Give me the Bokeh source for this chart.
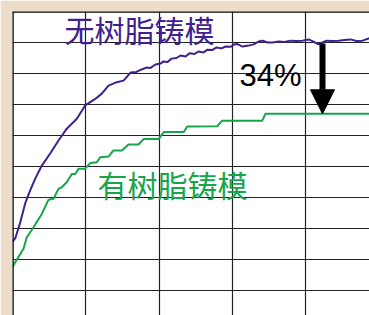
from bokeh.plotting import figure
from bokeh.models import Range1d, FixedTicker, Span, Label, Arrow, NormalHead
from bokeh.embed import file_html
from bokeh.resources import INLINE

# Series: without resin mould (purple) and with resin mould (green), in grid-cell units
purple_x = [0.000, 0.037, 0.105, 0.173, 0.241, 0.310, 0.400, 0.514, 0.627, 0.740,
            0.877, 0.991, 1.128, 1.218, 1.309, 1.422, 1.514, 1.609, 1.691, 1.759,
            1.827, 1.882, 1.950, 2.018, 2.059, 2.114, 2.168, 2.236, 2.291, 2.359,
            2.414, 2.482, 2.536, 2.605, 2.659, 2.727, 2.782, 2.850, 2.905, 2.973,
            3.027, 3.068, 3.137, 3.218, 3.287, 3.355, 3.409, 3.477, 3.546, 3.627,
            3.709, 3.791, 3.873, 3.955, 4.037, 4.105, 4.173, 4.227, 4.282, 4.364,
            4.446, 4.527, 4.609, 4.691, 4.773, 4.868]
purple_y = [2.58, 2.68, 3.19, 3.81, 4.23, 4.61, 5.03, 5.42, 5.84, 6.22,
            6.54, 6.97, 7.18, 7.35, 7.61, 7.72, 7.77, 8.03, 8.05, 8.13,
            8.19, 8.18, 8.29, 8.32, 8.39, 8.37, 8.48, 8.50, 8.58, 8.55,
            8.65, 8.63, 8.71, 8.68, 8.77, 8.76, 8.84, 8.81, 8.87, 8.86,
            8.94, 8.95, 8.87, 8.90, 8.94, 9.03, 9.06, 9.00, 9.00, 9.03,
            9.02, 9.06, 9.05, 9.06, 9.10, 9.03, 8.94, 9.00, 9.06, 9.05,
            9.06, 9.08, 9.10, 9.05, 9.06, 9.14]

green_x = [0.000, 0.150, 0.195, 0.286, 0.400, 0.491, 0.559, 0.627, 0.672, 0.740,
           0.809, 0.855, 0.900, 0.991, 1.060, 1.150, 1.196, 1.309, 1.377, 1.491,
           1.582, 1.718, 1.791, 1.995, 2.063, 2.336, 2.382, 2.791, 2.860, 3.405,
           3.450, 4.868]
green_y = [1.77, 2.35, 2.72, 3.04, 3.47, 3.93, 3.96, 4.28, 4.33, 4.49,
           4.76, 4.76, 4.93, 4.93, 5.11, 5.14, 5.30, 5.32, 5.52, 5.52,
           5.71, 5.71, 5.89, 5.89, 6.11, 6.11, 6.29, 6.30, 6.48, 6.48,
           6.70, 6.70]

x_ticks = [1, 2, 3, 4]
y_ticks = [1, 2, 3, 4, 5, 6, 7, 8, 9]

label_purple = "无树脂铸模"
label_green = "有树脂铸模"
label_drop = "34%"

arrow_x = 4.227
arrow_top = 8.97

PURPLE = "#40208F"
GREEN = "#17A54A"

p = figure(width=369, height=315, output_backend="svg", toolbar_location=None,
           x_range=Range1d(0, 4.868), y_range=Range1d(0.194, 10),
           min_border_left=12, min_border_top=11, min_border_right=0, min_border_bottom=0)
p.xaxis.visible = False
p.yaxis.visible = False
p.title.visible = False
p.border_fill_color = "#EEDCCB"
p.background_fill_color = "white"
p.outline_line_color = None

p.xgrid.ticker = FixedTicker(ticks=x_ticks)
p.ygrid.ticker = FixedTicker(ticks=y_ticks)
for g in (p.xgrid, p.ygrid):
    g.grid_line_color = "#222222"
    g.grid_line_width = 1.2
    g.grid_line_alpha = 1.0

p.add_layout(Span(location=0, dimension="height", line_color="black", line_width=2.5))
p.add_layout(Span(location=10, dimension="width", line_color="black", line_width=2.5))

p.line(purple_x, purple_y, line_color=PURPLE, line_width=2, line_join="round")
p.line(green_x, green_y, line_color=GREEN, line_width=2, line_join="round")

p.add_layout(Label(x=0.71, y=9.45, text=label_purple, text_color=PURPLE,
                   text_font="Noto Sans CJK SC", text_font_size="30px",
                   text_baseline="middle", text_align="left"))
p.add_layout(Label(x=1.16, y=4.44, text=label_green, text_color=GREEN,
                   text_font="Noto Sans CJK SC", text_font_size="30px",
                   text_baseline="middle", text_align="left"))
p.add_layout(Label(x=3.096, y=7.95, text=label_drop, text_color="black",
                   text_font="Liberation Sans", text_font_size="31px",
                   text_baseline="middle", text_align="left"))

p.add_layout(Arrow(x_start=arrow_x, y_start=arrow_top, x_end=arrow_x, y_end=green_y[-1],
                   line_color="black", line_width=6, line_cap="butt",
                   end=NormalHead(size=24, fill_color="black", line_color="black", line_width=1)))

open("out.html", "w").write(file_html(p, INLINE))
